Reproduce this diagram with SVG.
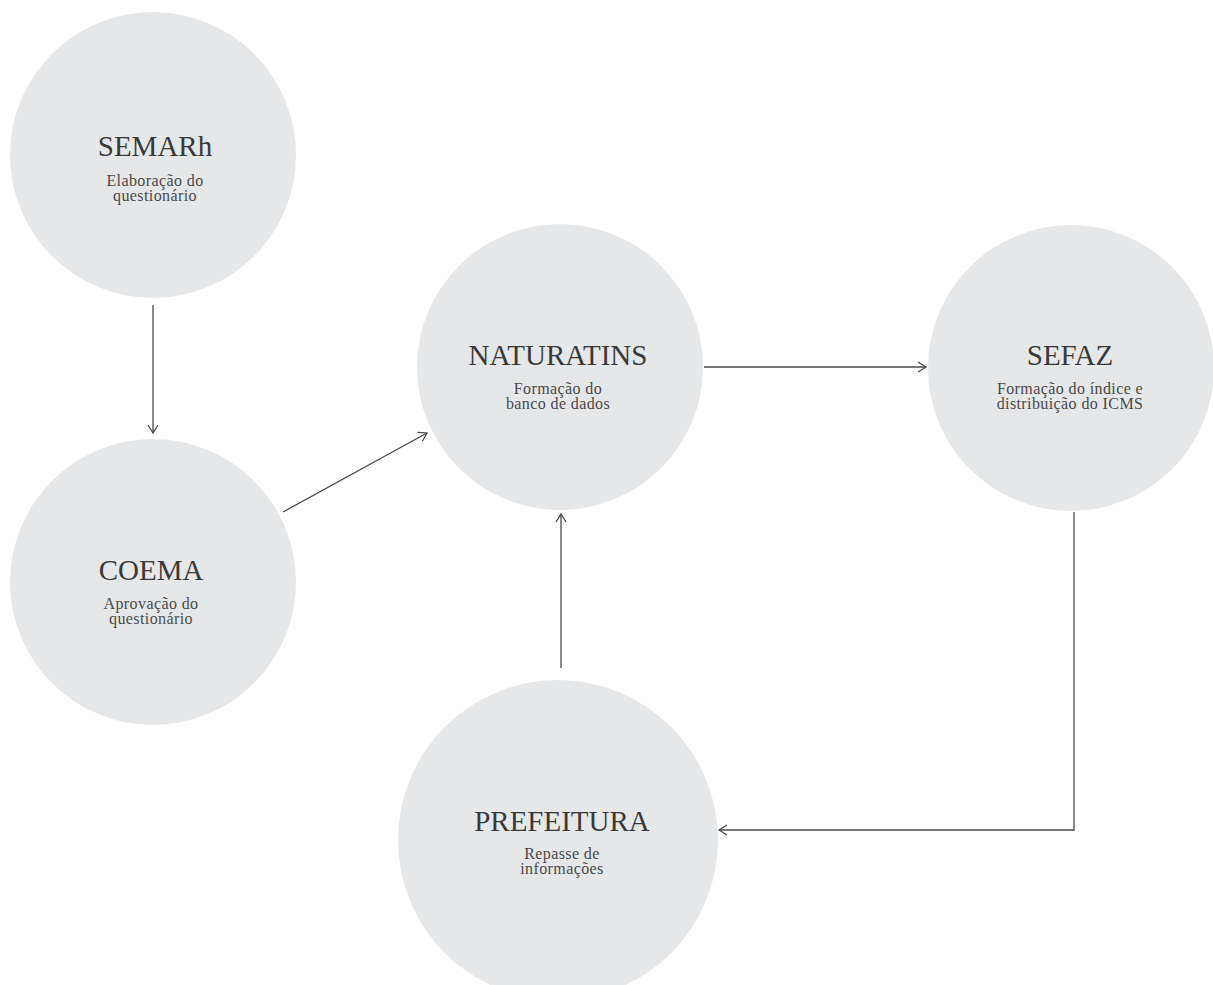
<svg xmlns="http://www.w3.org/2000/svg" width="1213" height="985" viewBox="0 0 1213 985">
<defs>
<marker id="arr" markerWidth="12" markerHeight="12" refX="10" refY="6" orient="auto" markerUnits="userSpaceOnUse">
<path d="M2,1 L10,6 L2,11" fill="none" stroke="#444" stroke-width="1.2"/>
</marker>
<style>
.c{fill:#e6e7e8}
.t{font-family:"Liberation Serif","Times New Roman",serif;font-size:29px;fill:#3a3a3a;text-anchor:middle}
.s{font-family:"Liberation Serif","Times New Roman",serif;font-size:16px;fill:#4a4a4a;text-anchor:middle;letter-spacing:0.4px}
.e{fill:none;stroke:#4a4a4a;stroke-width:1.3}
</style>
</defs>
<rect width="1213" height="985" fill="#ffffff"/>
<g id="semarh">
<circle class="c" cx="153" cy="155" r="143"/>
<text class="t" x="155" y="156">SEMARh</text>
<text class="s" x="155" y="186">Elaboração do</text>
<text class="s" x="155" y="201">questionário</text>
</g>
<g id="coema">
<circle class="c" cx="153" cy="582" r="143"/>
<text class="t" x="151" y="580">COEMA</text>
<text class="s" x="151" y="609">Aprovação do</text>
<text class="s" x="151" y="624">questionário</text>
</g>
<g id="naturatins">
<circle class="c" cx="560" cy="367" r="143"/>
<text class="t" x="558" y="365">NATURATINS</text>
<text class="s" x="558" y="394">Formação do</text>
<text class="s" x="558" y="409">banco de dados</text>
</g>
<g id="sefaz">
<circle class="c" cx="1071" cy="368" r="143"/>
<text class="t" x="1070" y="365">SEFAZ</text>
<text class="s" x="1070" y="394">Formação do índice e</text>
<text class="s" x="1070" y="409">distribuição do ICMS</text>
</g>
<g id="prefeitura">
<circle class="c" cx="558" cy="840" r="160"/>
<text class="t" x="562" y="831">PREFEITURA</text>
<text class="s" x="562" y="859">Repasse de</text>
<text class="s" x="562" y="874">informações</text>
</g>
<g id="connectors">
<line class="e" x1="153" y1="305" x2="153" y2="433" marker-end="url(#arr)"/>
<line class="e" x1="283" y1="512" x2="427" y2="433" marker-end="url(#arr)"/>
<line class="e" x1="704" y1="367" x2="926" y2="367" marker-end="url(#arr)"/>
<line class="e" x1="561" y1="668" x2="561" y2="514" marker-end="url(#arr)"/>
<polyline class="e" points="1074,512 1074,830 719,830" marker-end="url(#arr)"/>
</g>
</svg>
